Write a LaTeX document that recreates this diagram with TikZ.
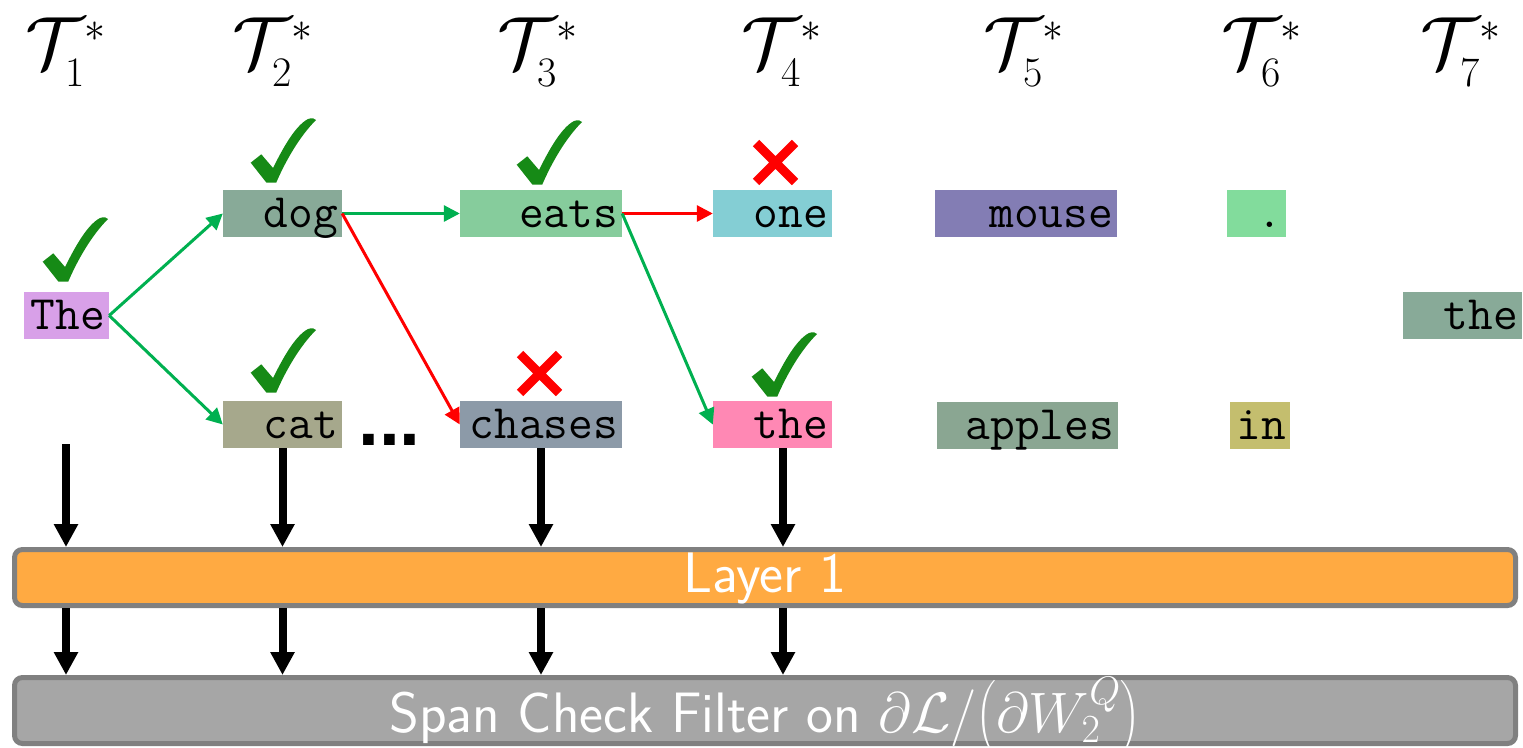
\RequirePackage{fix-cm}
\documentclass[tikz,border=0pt]{standalone}
\usepackage{amsmath}
\usepackage{fontspec}
\usetikzlibrary{arrows.meta}
\newfontfamily\dotfont{Liberation Sans}
\newcommand\subsz{\fontsize{42}{44}\selectfont}
\definecolor{cThe}{HTML}{D8A0E8}
\definecolor{cDog}{HTML}{88AA98}
\definecolor{cCat}{HTML}{A6A88C}
\definecolor{cEats}{HTML}{86CC9C}
\definecolor{cChases}{HTML}{8C9AA8}
\definecolor{cOne}{HTML}{84CED4}
\definecolor{cPink}{HTML}{FF88B4}
\definecolor{cMouse}{HTML}{837DB4}
\definecolor{cApples}{HTML}{8AA692}
\definecolor{cDot}{HTML}{82DC9C}
\definecolor{cIn}{HTML}{C4BE6E}
\definecolor{chkgreen}{HTML}{168A16}
\definecolor{arrgreen}{HTML}{00B050}
\definecolor{layerorange}{HTML}{FFAA42}
\definecolor{spangray}{HTML}{A6A6A6}
\definecolor{bordergray}{HTML}{808080}
\begin{document}
\begin{tikzpicture}[x=1pt,y=-1pt,
  tok/.style={rectangle, inner xsep=4pt, inner ysep=0pt, text height=37pt, text depth=10pt,
    align=right, font=\fontsize{48}{52}\selectfont\ttfamily},
  title/.style={inner sep=0pt, anchor=base west, font=\fontsize{74}{78}\selectfont},
  garrow/.style={draw=arrgreen, line width=3pt, -{Triangle[length=16pt,width=16pt]}},
  rarrow/.style={draw=red, line width=3pt, -{Triangle[length=16pt,width=16pt]}},
  barrow/.style={draw=black, line width=8pt, -{Triangle[length=23pt,width=23pt]}},
  layerbox/.style={rectangle, rounded corners=8pt, draw=bordergray, line width=5pt,
    minimum width=1501pt, inner ysep=0pt, text=white, font=\fontsize{57}{60}\selectfont\sffamily},
  chk/.pic={\fill[chkgreen] (0.7,44.7) -- (11.3,36.3) -- (23,50)
      .. controls (33,30) and (45,8) .. (58,1)
      .. controls (62,-0.5) and (65,0.5) .. (66,2)
      .. controls (50,18) and (36,42) .. (26.3,64.5) -- (16.3,64.5) -- cycle;},
  crs/.pic={\draw[red, line width=9pt] (3,3) -- (42,42) (3,42) -- (42,3);}
]
\useasboundingbox (0,0) rectangle (1523,747);

% titles
\foreach \i/\xx in {1/25,2/232,3/497,4/741,5/983,6/1221,7/1420}
  \node[title] (T\i) at (\xx,68) {$\mathcal{T}^{\mbox{\subsz$*$}}_{\mbox{\subsz\i}}$};

% tokens
\node[tok, fill=cThe,    text width=77pt]  (the1)   at (66.5,315.5)  {The};
\node[tok, fill=cDog,    text width=111pt] (dog)    at (282.5,213.5) {dog};
\node[tok, fill=cCat,    text width=111pt] (cat)    at (282.5,424.5) {cat};
\node[tok, fill=cEats,   text width=154pt] (eats)   at (541,213.5)   {eats};
\node[tok, fill=cChases, text width=154pt] (chases) at (541,424.5)   {chases};
\node[tok, fill=cOne,    text width=111pt] (one)    at (772.5,213.5) {one};
\node[tok, fill=cPink,   text width=111pt] (thep)   at (772.5,424.5) {the};
\node[tok, fill=cMouse,  text width=174pt] (mouse)  at (1026,213.5)  {mouse};
\node[tok, fill=cApples, text width=173pt] (apples) at (1027.5,425.5) {apples};
\node[tok, fill=cDot,    text width=51pt]  (dot)    at (1256.5,213.5) {.};
\node[tok, fill=cIn,     text width=52pt]  (in)     at (1260,425.5)  {in};
\node[tok, fill=cDog,    text width=111pt] (the7)   at (1462.5,315.5) {the};

\node[inner sep=0pt, anchor=base west, font=\fontsize{75}{80}\selectfont\dotfont\bfseries] (dots) at (358,445) {...};

% checks and crosses
\pic at (42,217) {chk};
\pic at (250,118) {chk};
\pic at (250,328) {chk};
\pic at (516,120) {chk};
\pic at (751,332) {chk};
\pic at (753,140) {crs};
\pic at (517,351) {crs};

% token arrows
\draw[garrow] (the1.east) -- (dog.west);
\draw[garrow] (the1.east) -- (cat.west);
\draw[garrow] (dog.east) -- (eats.west);
\draw[rarrow] (dog.east) -- (chases.west);
\draw[rarrow] (eats.east) -- (one.west);
\draw[garrow] (eats.east) -- (thep.west);

% boxes
\node[layerbox, fill=layerorange, minimum height=56pt, text height=42.5pt, text depth=13.5pt] (layer) at (765,577.5) {Layer 1};
\node[layerbox, fill=spangray, minimum height=66pt, text height=54.5pt, text depth=11.5pt] (span) at (765,710.5)
  {Span Check Filter on $\partial\mathcal{L}/\bigl(\partial W_2^Q\bigr)$};

% vertical arrows
\coordinate (s1) at (66,444);
\coordinate (s2) at (cat.south);
\coordinate (s3) at (chases.south);
\coordinate (s4) at ([xshift=10.5pt]thep.south);
\foreach \k in {1,2,3,4} {
  \draw[barrow] (s\k) -- (s\k |- layer.north);
  \draw[barrow] (s\k |- layer.south) -- (s\k |- span.north);
}
\end{tikzpicture}
\end{document}
